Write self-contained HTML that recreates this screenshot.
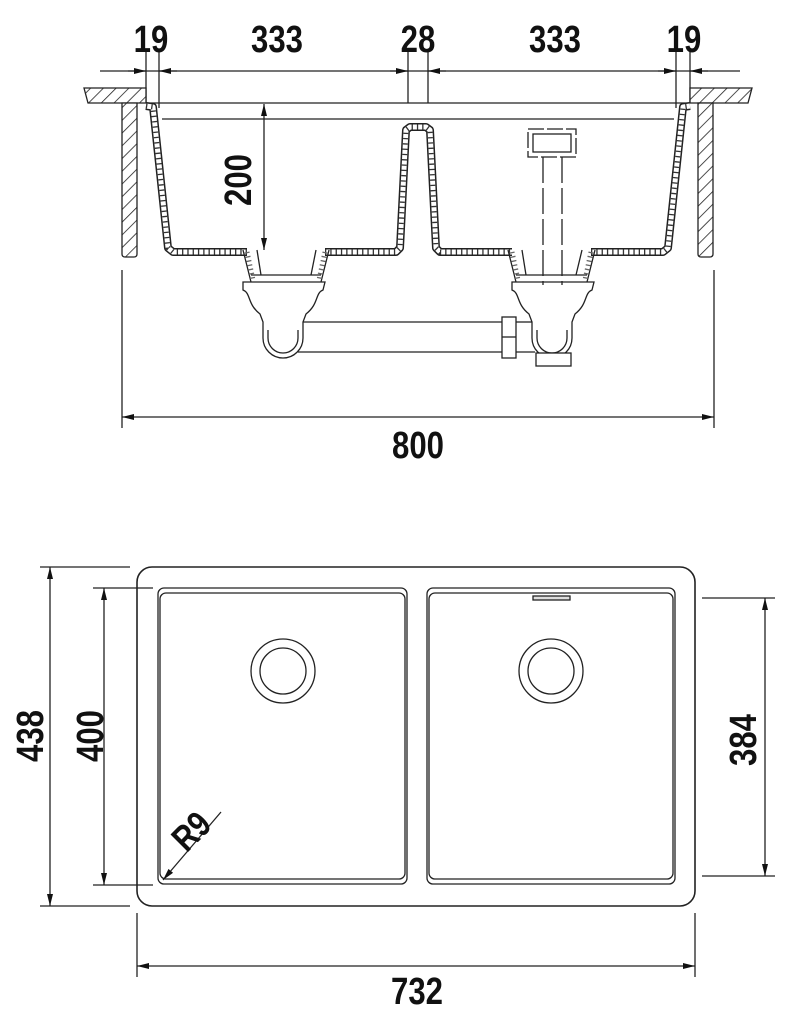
<!DOCTYPE html>
<html><head><meta charset="utf-8"><style>
html,body{margin:0;padding:0;background:#fff;}
svg{display:block;}
.t{font-family:"Liberation Sans",sans-serif;font-weight:bold;font-size:38px;fill:#111;}
</style></head><body>
<svg width="790" height="1016" viewBox="0 0 790 1016" xmlns="http://www.w3.org/2000/svg">
<defs>
<pattern id="h" width="9" height="9" patternUnits="userSpaceOnUse" patternTransform="rotate(45)">
<rect width="9" height="9" fill="#fff"/><line x1="0" y1="0" x2="0" y2="9" stroke="#222" stroke-width="1.6"/>
</pattern>
<marker id="a" viewBox="0 0 12 6" refX="12" refY="3" markerWidth="12" markerHeight="6" markerUnits="userSpaceOnUse" orient="auto-start-reverse">
<path d="M0,0 L12,3 L0,6 Z" fill="#111"/></marker>
</defs>
<g stroke="#222" stroke-width="1.3" fill="none">
<line x1="100" y1="71" x2="740" y2="71"/>
<line x1="146" y1="52" x2="146" y2="103"/><line x1="159" y1="52" x2="159" y2="108"/>
<line x1="408" y1="52" x2="408" y2="103"/><line x1="428" y1="52" x2="428" y2="103"/>
<line x1="676" y1="52" x2="676" y2="108"/><line x1="690" y1="52" x2="690" y2="103"/>
<line x1="128" y1="71" x2="146" y2="71" marker-end="url(#a)"/>
<line x1="177" y1="71" x2="159" y2="71" marker-end="url(#a)"/>
<line x1="390" y1="71" x2="408" y2="71" marker-end="url(#a)"/>
<line x1="446" y1="71" x2="428" y2="71" marker-end="url(#a)"/>
<line x1="658" y1="71" x2="676" y2="71" marker-end="url(#a)"/>
<line x1="708" y1="71" x2="690" y2="71" marker-end="url(#a)"/>
<path d="M84,88 H146 V103 H88 Z" fill="url(#h)"/>
<path d="M690,88 H752 L748,103 H690 Z" fill="url(#h)"/>
<path d="M122,103 H137 V254 Q137,257 134,257 H125 Q122,257 122,254 Z" fill="url(#h)"/>
<path d="M698,103 H713 V254 Q713,257 710,257 H701 Q698,257 698,254 Z" fill="url(#h)"/>
<line x1="146" y1="103" x2="690" y2="103"/>
<line x1="162" y1="119" x2="674" y2="119"/>
<line x1="264" y1="104" x2="264" y2="250" marker-start="url(#a)" marker-end="url(#a)"/>
</g>
<path id="sh" d="M146,106 L153,107 L168,248 L173,252 L247,252 M325,252 L396,252 L400,248 L406,130 L410,127 L426,127 L430,130 L436,248 L440,252 L512,252 M591,252 L663,252 L668,248 L683,107 L690,106" fill="none" stroke="#222" stroke-width="8" stroke-linejoin="round"/>
<path d="M146,106 L153,107 L168,248 L173,252 L247,252 M325,252 L396,252 L400,248 L406,130 L410,127 L426,127 L430,130 L436,248 L440,252 L512,252 M591,252 L663,252 L668,248 L683,107 L690,106" fill="none" stroke="#fff" stroke-width="5" stroke-linejoin="round"/>
<path d="M146,106 L153,107 L168,248 L173,252 L247,252 M325,252 L396,252 L400,248 L406,130 L410,127 L426,127 L430,130 L436,248 L440,252 L512,252 M591,252 L663,252 L668,248 L683,107 L690,106" fill="none" stroke="#333" stroke-width="5" stroke-dasharray="1.3 4"/>
<g stroke="#222" stroke-width="1.3" fill="none">
<path d="M243,250 L251,282 M257,250 L261,275 M311,275 L316,250 M329,250 L321,282"/>
<path d="M247,252 L253,280 M325,252 L319,280" stroke-width="5" stroke="#666" stroke-dasharray="1.3 3"/>
<line x1="251" y1="275" x2="321" y2="275"/>
<path d="M508,250 L516,282 M522,250 L526,275 M576,275 L582,250 M595,250 L587,282"/>
<path d="M512,252 L518,280 M591,252 L585,280" stroke-width="5" stroke="#666" stroke-dasharray="1.3 3"/>
<line x1="516" y1="275" x2="587" y2="275"/>
<path d="M243,282 H325 L323,290 C315,293 319,304 306,314 L303,322 V338 A20,20 0 0 1 263,338 V322 L260,314 C247,304 251,293 243,290 Z" fill="#fff"/>
<path d="M298,330 V338 A15,15 0 0 1 268,338 V330"/>
<path d="M512,282 H594 L592,290 C584,293 588,304 575,314 L572,322 V338 A20,20 0 0 1 532,338 V322 L529,314 C516,304 520,293 512,290 Z" fill="#fff"/>
<path d="M567,330 V338 A15,15 0 0 1 537,338 V330"/>
<line x1="303" y1="322" x2="502" y2="322"/><line x1="298" y1="352" x2="502" y2="352"/>
<rect x="502" y="317" width="14" height="41" fill="#fff"/>
<line x1="502" y1="337" x2="516" y2="337"/>
<line x1="516" y1="322" x2="532" y2="322"/><line x1="516" y1="352" x2="535" y2="352"/>
<rect x="536" y="353" width="35" height="13" fill="#fff"/>
<rect x="528" y="129" width="48" height="28" stroke-dasharray="16 3"/>
<rect x="533" y="134" width="38" height="18"/>
<line x1="543" y1="157" x2="543" y2="285" stroke-dasharray="26 5"/>
<line x1="562" y1="157" x2="562" y2="285" stroke-dasharray="26 5"/>
<line x1="122" y1="270" x2="122" y2="428"/><line x1="714" y1="270" x2="714" y2="428"/>
<line x1="122" y1="417" x2="714" y2="417" marker-start="url(#a)" marker-end="url(#a)"/>

<rect x="137" y="567" width="558" height="339" rx="15" stroke-width="1.6"/>
<rect x="158" y="588" width="249" height="296" rx="6"/>
<rect x="160" y="593" width="245" height="286" rx="6"/>
<rect x="427" y="588" width="248" height="296" rx="6"/>
<rect x="429" y="593" width="244" height="286" rx="6"/>
<rect x="533" y="596" width="37" height="4" fill="#ddd"/>
<circle cx="283" cy="671" r="32"/><circle cx="283" cy="671" r="23"/>
<circle cx="551" cy="671" r="32"/><circle cx="551" cy="671" r="23"/>
<line x1="40" y1="567" x2="130" y2="567"/><line x1="40" y1="906" x2="130" y2="906"/>
<line x1="50" y1="567" x2="50" y2="906" marker-start="url(#a)" marker-end="url(#a)"/>
<line x1="93" y1="588" x2="153" y2="588"/><line x1="93" y1="885" x2="153" y2="885"/>
<line x1="104" y1="588" x2="104" y2="885" marker-start="url(#a)" marker-end="url(#a)"/>
<line x1="702" y1="598" x2="775" y2="598"/><line x1="702" y1="876" x2="775" y2="876"/>
<line x1="765" y1="598" x2="765" y2="876" marker-start="url(#a)" marker-end="url(#a)"/>
<line x1="137" y1="913" x2="137" y2="977"/><line x1="695" y1="913" x2="695" y2="977"/>
<line x1="137" y1="966" x2="695" y2="966" marker-start="url(#a)" marker-end="url(#a)"/>
<line x1="221" y1="812" x2="163" y2="880" marker-end="url(#a)"/>
</g>
<g class="t" text-anchor="middle">
<text x="151" y="52" transform="translate(151 0) scale(0.82 1) translate(-151 0)">19</text>
<text x="277" y="52" transform="translate(277 0) scale(0.82 1) translate(-277 0)">333</text>
<text x="418" y="52" transform="translate(418 0) scale(0.82 1) translate(-418 0)">28</text>
<text x="555" y="52" transform="translate(555 0) scale(0.82 1) translate(-555 0)">333</text>
<text x="684" y="52" transform="translate(684 0) scale(0.82 1) translate(-684 0)">19</text>
<text x="418" y="458" transform="translate(418 0) scale(0.82 1) translate(-418 0)">800</text>
<text x="417" y="1004" transform="translate(417 0) scale(0.82 1) translate(-417 0)">732</text>
<text transform="translate(251 180) rotate(-90) scale(0.82 1)" x="0" y="0">200</text>
<text transform="translate(43 736) rotate(-90) scale(0.82 1)" x="0" y="0">438</text>
<text transform="translate(103 736) rotate(-90) scale(0.82 1)" x="0" y="0">400</text>
<text transform="translate(756 740) rotate(-90) scale(0.82 1)" x="0" y="0">384</text>
<text transform="translate(200 840) rotate(-45) scale(0.82 1)" x="0" y="0" style="font-size:36px">R9</text>
</g>
</svg>
</body></html>
